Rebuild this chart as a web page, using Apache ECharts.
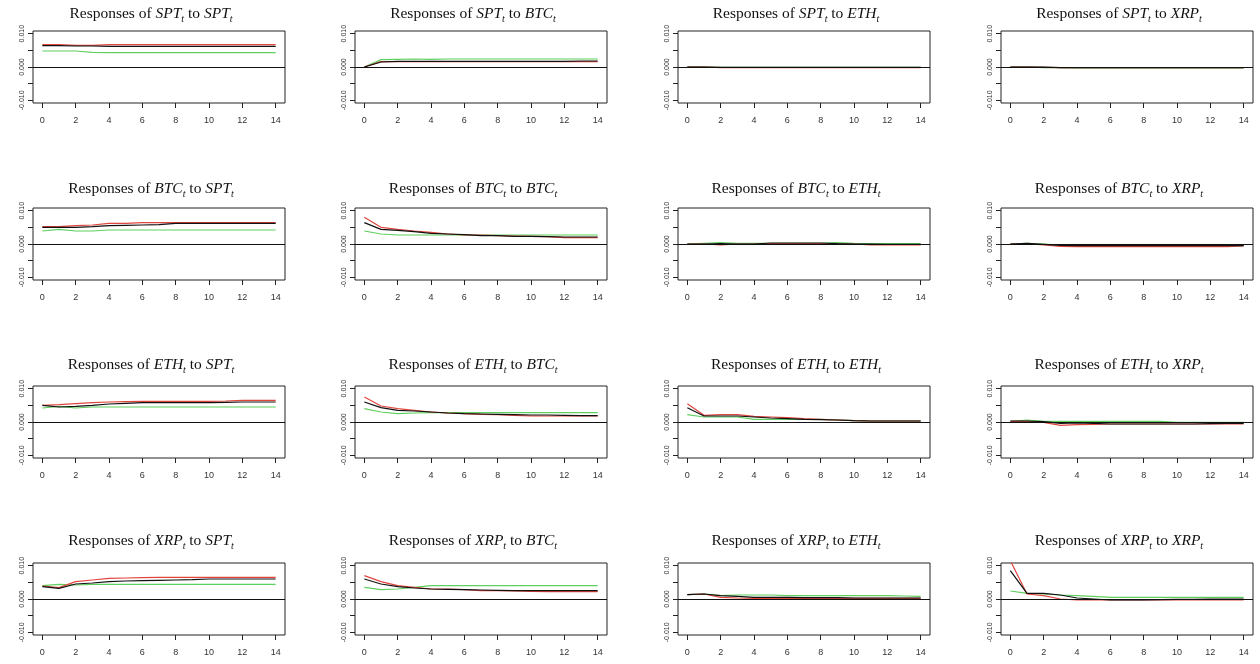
<!DOCTYPE html>
<html>
<head>
<meta charset="utf-8">
<script src="https://cdn.jsdelivr.net/npm/echarts@6/dist/echarts.min.js"></script>
<style>
  html, body { margin: 0; background: #fff; }
  #chart { width: 1260px; height: 664px; }
</style>
</head>
<body>
<div id="chart"></div>
<script>
// variable names, rows = response, cols = impulse
const vars = ['SPT', 'BTC', 'ETH', 'XRP'];
const steps = [0, 1, 2, 3, 4, 5, 6, 7, 8, 9, 10, 11, 12, 13, 14];
const xTicks = [0, 2, 4, 6, 8, 10, 12, 14];
const yTicks = [-0.01, -0.005, 0, 0.005, 0.01];
const yLabels = [-0.01, 0, 0.01];

// responses of SPT
const SPT_SPT_black = [0.0064, 0.0064, 0.0063, 0.0063, 0.0062, 0.0062, 0.0062, 0.0062, 0.0062, 0.0062, 0.0062, 0.0062, 0.0062, 0.0062, 0.0062];
const SPT_SPT_red   = [0.0067, 0.0067, 0.0065, 0.0065, 0.0067, 0.0067, 0.0067, 0.0067, 0.0067, 0.0067, 0.0067, 0.0067, 0.0067, 0.0067, 0.0067];
const SPT_SPT_green = [0.0048, 0.0048, 0.0048, 0.0044, 0.0043, 0.0043, 0.0043, 0.0043, 0.0043, 0.0043, 0.0043, 0.0043, 0.0043, 0.0043, 0.0043];
const SPT_BTC_black = [0, 0.0015, 0.0017, 0.0017, 0.0017, 0.0017, 0.0017, 0.0017, 0.0017, 0.0017, 0.0017, 0.0017, 0.0017, 0.0018, 0.0018];
const SPT_BTC_red   = [0, 0.0016, 0.0016, 0.0016, 0.0016, 0.0016, 0.0016, 0.0016, 0.0016, 0.0016, 0.0016, 0.0016, 0.0016, 0.0016, 0.0016];
const SPT_BTC_green = [0, 0.0022, 0.0023, 0.0024, 0.0023, 0.0024, 0.0024, 0.0024, 0.0024, 0.0024, 0.0024, 0.0024, 0.0024, 0.0024, 0.0024];
const SPT_ETH_black = [0, 0, -0.0001, -0.0001, -0.0001, -0.0001, -0.0001, -0.0001, -0.0001, -0.0001, -0.0001, -0.0001, -0.0001, -0.0001, -0.0001];
const SPT_ETH_red   = [0, 0, -0.0002, -0.0002, -0.0002, -0.0002, -0.0002, -0.0002, -0.0002, -0.0002, -0.0002, -0.0002, -0.0002, -0.0002, -0.0002];
const SPT_ETH_green = [0, 0, -0.0001, -0.0001, -0.0001, -0.0001, -0.0001, -0.0001, -0.0001, -0.0001, -0.0001, -0.0001, -0.0001, -0.0001, -0.0001];
const SPT_XRP_black = [0, 0, 0, -0.0002, -0.0002, -0.0002, -0.0002, -0.0002, -0.0002, -0.0002, -0.0002, -0.0002, -0.0002, -0.0002, -0.0002];
const SPT_XRP_red   = [0, 0, -0.0001, -0.0002, -0.0002, -0.0002, -0.0002, -0.0002, -0.0002, -0.0002, -0.0002, -0.0002, -0.0002, -0.0002, -0.0002];
const SPT_XRP_green = [0, 0, -0.0002, -0.0002, -0.0003, -0.0003, -0.0003, -0.0003, -0.0003, -0.0003, -0.0003, -0.0003, -0.0003, -0.0003, -0.0003];

// responses of BTC
const BTC_SPT_black = [0.005, 0.005, 0.005, 0.0052, 0.0055, 0.0056, 0.0057, 0.0058, 0.0062, 0.0062, 0.0062, 0.0062, 0.0062, 0.0062, 0.0062];
const BTC_SPT_red   = [0.0052, 0.0052, 0.0055, 0.0057, 0.0062, 0.0062, 0.0064, 0.0064, 0.0064, 0.0064, 0.0064, 0.0064, 0.0064, 0.0064, 0.0064];
const BTC_SPT_green = [0.0039, 0.0044, 0.0039, 0.0039, 0.0042, 0.0042, 0.0042, 0.0042, 0.0042, 0.0042, 0.0042, 0.0042, 0.0042, 0.0042, 0.0042];
const BTC_BTC_black = [0.0064, 0.0044, 0.0041, 0.0037, 0.0032, 0.003, 0.0028, 0.0025, 0.0025, 0.0023, 0.0023, 0.0022, 0.0021, 0.0021, 0.0021];
const BTC_BTC_red   = [0.008, 0.005, 0.0044, 0.0039, 0.0035, 0.003, 0.0027, 0.0027, 0.0025, 0.0024, 0.0023, 0.0022, 0.0019, 0.0019, 0.0019];
const BTC_BTC_green = [0.0039, 0.003, 0.0027, 0.0027, 0.0027, 0.0027, 0.0027, 0.0027, 0.0027, 0.0027, 0.0027, 0.0027, 0.0027, 0.0027, 0.0027];
const BTC_ETH_black = [0, 0, 0.0001, 0, 0, 0.0003, 0.0003, 0.0003, 0.0003, 0.0001, 0, 0, -0.0001, -0.0001, -0.0001];
const BTC_ETH_red   = [0, 0, -0.0003, 0, 0, 0.0001, 0.0001, 0.0001, 0.0001, 0, 0, -0.0003, -0.0003, -0.0003, -0.0003];
const BTC_ETH_green = [0, 0.0002, 0.0004, 0.0002, 0.0002, 0.0002, 0.0002, 0.0002, 0.0002, 0.0004, 0.0002, 0.0001, 0.0001, 0.0001, 0.0001];
const BTC_XRP_black = [0, 0.0002, -0.0001, -0.0004, -0.0005, -0.0005, -0.0005, -0.0005, -0.0005, -0.0005, -0.0005, -0.0005, -0.0005, -0.0005, -0.0005];
const BTC_XRP_red   = [0, 0.0001, -0.0003, -0.0007, -0.0008, -0.0008, -0.0008, -0.0008, -0.0008, -0.0008, -0.0008, -0.0008, -0.0008, -0.0008, -0.0006];
const BTC_XRP_green = [0, 0.0002, 0, -0.0003, -0.0004, -0.0004, -0.0004, -0.0004, -0.0004, -0.0004, -0.0004, -0.0004, -0.0004, -0.0004, -0.0004];

// responses of ETH
const ETH_SPT_black = [0.005, 0.0045, 0.0047, 0.005, 0.0054, 0.0056, 0.0058, 0.0058, 0.0058, 0.0058, 0.0058, 0.0059, 0.006, 0.006, 0.006];
const ETH_SPT_red   = [0.005, 0.0052, 0.0055, 0.0058, 0.006, 0.0061, 0.0062, 0.0062, 0.0062, 0.0062, 0.0062, 0.0063, 0.0065, 0.0065, 0.0065];
const ETH_SPT_green = [0.0042, 0.0047, 0.0042, 0.0045, 0.0045, 0.0045, 0.0045, 0.0045, 0.0045, 0.0045, 0.0045, 0.0045, 0.0045, 0.0045, 0.0045];
const ETH_BTC_black = [0.006, 0.0043, 0.0035, 0.0033, 0.003, 0.0027, 0.0025, 0.0024, 0.0023, 0.0022, 0.0021, 0.0021, 0.002, 0.0019, 0.0019];
const ETH_BTC_red   = [0.0075, 0.0048, 0.004, 0.0035, 0.003, 0.0027, 0.0025, 0.0023, 0.0022, 0.002, 0.0018, 0.0018, 0.0018, 0.0018, 0.0018];
const ETH_BTC_green = [0.004, 0.003, 0.0025, 0.0027, 0.0028, 0.0028, 0.0028, 0.0028, 0.0028, 0.0028, 0.0028, 0.0028, 0.0028, 0.0028, 0.0028];
const ETH_ETH_black = [0.0043, 0.0018, 0.0018, 0.0018, 0.0015, 0.0012, 0.001, 0.0008, 0.0007, 0.0006, 0.0004, 0.0003, 0.0003, 0.0003, 0.0003];
const ETH_ETH_red   = [0.0055, 0.002, 0.0022, 0.0022, 0.0017, 0.0015, 0.0013, 0.001, 0.0008, 0.0006, 0.0004, 0.0003, 0.0003, 0.0003, 0.0003];
const ETH_ETH_green = [0.0022, 0.0015, 0.0015, 0.0015, 0.0008, 0.0008, 0.0008, 0.0008, 0.0008, 0.0006, 0.0004, 0.0003, 0.0003, 0.0003, 0.0003];
const ETH_XRP_black = [0.0003, 0.0003, 0.0001, -0.0004, -0.0003, -0.0004, -0.0006, -0.0006, -0.0006, -0.0006, -0.0006, -0.0006, -0.0005, -0.0004, -0.0004];
const ETH_XRP_red   = [0.0002, 0.0002, -0.0001, -0.001, -0.0008, -0.0007, -0.0006, -0.0006, -0.0006, -0.0006, -0.0006, -0.0006, -0.0006, -0.0006, -0.0006];
const ETH_XRP_green = [0.0001, 0.0006, 0.0002, 0.0002, 0.0002, 0.0002, 0.0002, 0.0002, 0.0002, 0.0002, -0.0001, -0.0001, -0.0001, -0.0001, -0.0001];

// responses of XRP
const XRP_SPT_black = [0.0037, 0.0032, 0.0045, 0.0048, 0.0052, 0.0054, 0.0055, 0.0056, 0.0057, 0.0058, 0.006, 0.006, 0.006, 0.006, 0.006];
const XRP_SPT_red   = [0.0039, 0.0034, 0.0052, 0.0057, 0.0062, 0.0063, 0.0064, 0.0065, 0.0065, 0.0065, 0.0065, 0.0065, 0.0065, 0.0065, 0.0065];
const XRP_SPT_green = [0.004, 0.0044, 0.0042, 0.0044, 0.0044, 0.0044, 0.0044, 0.0044, 0.0044, 0.0044, 0.0044, 0.0044, 0.0044, 0.0044, 0.0044];
const XRP_BTC_black = [0.006, 0.0045, 0.0037, 0.0033, 0.003, 0.0029, 0.0028, 0.0027, 0.0026, 0.0025, 0.0025, 0.0025, 0.0025, 0.0025, 0.0025];
const XRP_BTC_red   = [0.007, 0.0052, 0.004, 0.0035, 0.003, 0.003, 0.0028, 0.0025, 0.0025, 0.0024, 0.0023, 0.0022, 0.0022, 0.0022, 0.0022];
const XRP_BTC_green = [0.0035, 0.0028, 0.003, 0.0035, 0.004, 0.004, 0.004, 0.004, 0.004, 0.004, 0.004, 0.004, 0.004, 0.004, 0.004];
const XRP_ETH_black = [0.0013, 0.0015, 0.001, 0.0008, 0.0005, 0.0005, 0.0005, 0.0004, 0.0004, 0.0004, 0.0003, 0.0003, 0.0003, 0.0003, 0.0003];
const XRP_ETH_red   = [0.0013, 0.0015, 0.0005, 0.0003, 0.0002, 0.0002, 0.0002, 0.0002, 0.0002, 0.0002, 0.0002, 0.0002, 0.0002, 0.0002, 0.0002];
const XRP_ETH_green = [0.0013, 0.0015, 0.001, 0.0012, 0.0012, 0.0012, 0.001, 0.001, 0.001, 0.001, 0.001, 0.001, 0.001, 0.0009, 0.0008];
const XRP_XRP_black = [0.0085, 0.0017, 0.0017, 0.0012, 0.0003, 0, -0.0003, -0.0003, -0.0003, -0.0002, -0.0001, -0.0001, 0, 0, 0];
const XRP_XRP_red   = [0.0115, 0.0015, 0.001, 0, -0.0003, -0.0003, -0.0003, -0.0003, -0.0003, -0.0003, -0.0003, -0.0003, -0.0003, -0.0003, -0.0003];
const XRP_XRP_green = [0.0024, 0.0017, 0.0015, 0.0012, 0.001, 0.0008, 0.0005, 0.0005, 0.0005, 0.0005, 0.0005, 0.0005, 0.0005, 0.0005, 0.0005];

const panels = {
  SPT_SPT: [SPT_SPT_black, SPT_SPT_red, SPT_SPT_green],
  SPT_BTC: [SPT_BTC_black, SPT_BTC_red, SPT_BTC_green],
  SPT_ETH: [SPT_ETH_black, SPT_ETH_red, SPT_ETH_green],
  SPT_XRP: [SPT_XRP_black, SPT_XRP_red, SPT_XRP_green],
  BTC_SPT: [BTC_SPT_black, BTC_SPT_red, BTC_SPT_green],
  BTC_BTC: [BTC_BTC_black, BTC_BTC_red, BTC_BTC_green],
  BTC_ETH: [BTC_ETH_black, BTC_ETH_red, BTC_ETH_green],
  BTC_XRP: [BTC_XRP_black, BTC_XRP_red, BTC_XRP_green],
  ETH_SPT: [ETH_SPT_black, ETH_SPT_red, ETH_SPT_green],
  ETH_BTC: [ETH_BTC_black, ETH_BTC_red, ETH_BTC_green],
  ETH_ETH: [ETH_ETH_black, ETH_ETH_red, ETH_ETH_green],
  ETH_XRP: [ETH_XRP_black, ETH_XRP_red, ETH_XRP_green],
  XRP_SPT: [XRP_SPT_black, XRP_SPT_red, XRP_SPT_green],
  XRP_BTC: [XRP_BTC_black, XRP_BTC_red, XRP_BTC_green],
  XRP_ETH: [XRP_ETH_black, XRP_ETH_red, XRP_ETH_green],
  XRP_XRP: [XRP_XRP_black, XRP_XRP_red, XRP_XRP_green]
};

const lineColors = ['#111111', '#e0463e', '#5fcf5f'];
const colLeft = [33, 355, 678, 1001];
const rowTop = [31, 208, 386, 563];
const titleY = [4, 179, 355, 531];
const boxW = 252, boxH = 72;

const grid = [], xAxis = [], yAxis = [], series = [], title = [];
const serif = 'Liberation Serif';

vars.forEach((resp, r) => {
  vars.forEach((imp, c) => {
    const idx = r * 4 + c;
    grid.push({
      left: colLeft[c], top: rowTop[r], width: boxW, height: boxH,
      show: true, borderColor: '#222', borderWidth: 1, backgroundColor: 'transparent'
    });
    xAxis.push({
      type: 'value', gridIndex: idx, min: -0.56, max: 14.56, position: 'bottom',
      axisLine: {show: false, onZero: false}, splitLine: {show: false},
      axisTick: {show: true, customValues: xTicks, length: 5, lineStyle: {color: '#222'}},
      axisLabel: {customValues: xTicks, fontSize: 9, color: '#333', margin: 13, fontFamily: 'Liberation Sans'}
    });
    yAxis.push({
      type: 'value', gridIndex: idx, min: -0.0108, max: 0.0108, position: 'left',
      axisLine: {show: false, onZero: false}, splitLine: {show: false},
      axisTick: {show: true, customValues: yTicks, length: 5, lineStyle: {color: '#222'}},
      axisLabel: {
        customValues: yLabels, fontSize: 7, color: '#333', margin: 7, rotate: 90,
        fontFamily: 'Liberation Sans', formatter: v => v.toFixed(3)
      }
    });
    title.push({
      text: `{n|Responses of }{i|${resp}}{s|t}{n| to }{i|${imp}}{s|t}`,
      left: colLeft[c] + boxW / 2 - 8, top: titleY[r], textAlign: 'center', padding: 0,
      textStyle: {
        fontWeight: 'normal',
        rich: {
          n: {fontFamily: serif, fontWeight: 'normal', fontSize: 15.5, color: '#111', lineHeight: 20},
          i: {fontFamily: serif, fontWeight: 'normal', fontStyle: 'italic', fontSize: 15.5, color: '#111', lineHeight: 20},
          s: {fontFamily: serif, fontWeight: 'normal', fontStyle: 'italic', fontSize: 10, color: '#111', lineHeight: 10, verticalAlign: 'bottom'}
        }
      }
    });
    const lines = panels[resp + '_' + imp];
    lines.forEach((vals, k) => {
      series.push({
        type: 'line', xAxisIndex: idx, yAxisIndex: idx,
        data: steps.map((s, j) => [s, vals[j]]),
        showSymbol: false, silent: true, clip: true, z: 5 - k,
        lineStyle: {color: lineColors[k], width: 1.2},
        markLine: k === 0 ? {
          silent: true, symbol: 'none', label: {show: false},
          lineStyle: {color: '#111', width: 1, type: 'solid'},
          data: [{yAxis: 0}]
        } : undefined
      });
    });
  });
});

const chart = echarts.init(document.getElementById('chart'));
chart.setOption({
  animation: false,
  backgroundColor: '#fff',
  title, grid, xAxis, yAxis, series
});
</script>
</body>
</html>
